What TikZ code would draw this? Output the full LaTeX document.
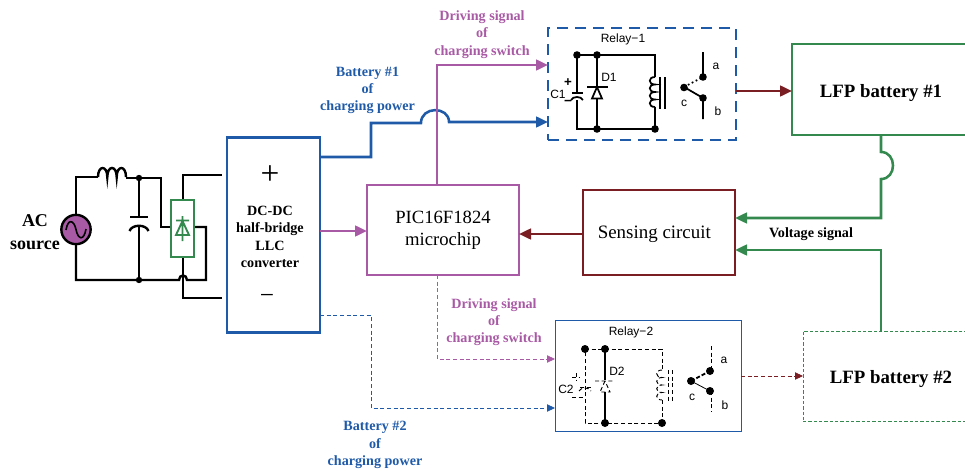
\documentclass[tikz,border=0pt]{standalone}
\usepackage{fontspec}
\setmainfont{Liberation Serif}
\newfontfamily\relayfont{Liberation Sans}
\usetikzlibrary{arrows.meta}
\definecolor{cpur}{HTML}{A95AA5}
\definecolor{cblu}{HTML}{1F5AA8}
\definecolor{cgrn}{HTML}{34894F}
\definecolor{cred}{HTML}{7A1E24}
\tikzset{
 box/.style={draw,line width=1.8pt,outer sep=0pt,inner sep=0pt,align=center},
 lbl/.style={font=\bfseries\fontsize{10.6}{13}\selectfont,align=center,inner sep=0pt},
 rtxt/.style={font=\relayfont\fontsize{9}{10}\selectfont,inner sep=0pt},
 wire/.style={line width=1.8pt,line join=miter},
 swire/.style={line width=1.3pt},
 conn/.style={line width=1.9pt},
 tip/.style={-{Triangle[length=9pt,width=8pt]}},
 thin tip/.style={-{Triangle[length=6pt,width=5.5pt]}},
 dsh/.style={line width=.7pt,dash pattern=on 3pt off 2pt},
 thindash/.style={line width=.6pt,dash pattern=on 3pt off 2pt},
}
\begin{document}
\begin{tikzpicture}[x=0.75pt,y=-0.75pt]
\useasboundingbox (0,0) rectangle (965,471);
% boxes
\node[box,draw=cblu,minimum width=69.75pt,minimum height=146pt] (dc) at (273.5,235) {};
\node[lbl] (dctxt) at (270,237) {\bfseries DC-DC\\half-bridge\\LLC\\converter};
\node[font=\fontsize{25}{25}\selectfont,inner sep=0pt] (plus) at (270,175) {+};
\node[font=\fontsize{19}{19}\selectfont,inner sep=0pt] (minus) at (267,299) {−};
\node[box,draw=cpur,minimum width=114pt,minimum height=67.5pt,font=\fontsize{14}{16.5}\selectfont] (pic) at (443,230) {PIC16F1824\\microchip};
\node[box,draw=cred,minimum width=114pt,minimum height=63.75pt,font=\fontsize{14.2}{16.5}\selectfont,text height=12.4pt,text depth=3pt] (sense) at (659,232.5) {\hspace*{-7pt}Sensing circuit};
\node[box,draw=cblu,line width=1.2pt,dash pattern=on 8pt off 5.5pt,minimum width=141pt,minimum height=84pt] (relayA) at (642,84) {};
\node[box,draw=cblu,line width=.7pt,minimum width=139.5pt,minimum height=83.25pt] (relayB) at (648,375.5) {};
\node[box,draw=cgrn,minimum width=133.5pt,minimum height=68.25pt,font=\bfseries\fontsize{14.1}{16}\selectfont,text height=15.4pt,text depth=3pt] (lfpA) at (881,89.5) {LFP battery \#1};
\node[box,draw=cgrn,line width=.7pt,dash pattern=on 2.5pt off 1.5pt,minimum width=132pt,minimum height=67.5pt,font=\bfseries\fontsize{14.1}{16}\selectfont,text height=13.9pt,text depth=3pt] (lfpB) at (891,376) {LFP battery \#2};
% labels
\node[lbl,text=cpur] (l1) at (482,34.5) {Driving signal\\of\\charging switch};
\node[lbl,text=cblu] (l2) at (367.5,90.5) {Battery \#1\\of\\charging power};
\node[lbl,text=cpur] (l3) at (494,322) {Driving signal\\of\\charging switch};
\node[lbl,text=cblu] (l4) at (375,445) {Battery \#2\\of\\charging power};
\node[lbl] (l5) at (811,234) {Voltage signal};
\node[font=\bfseries\fontsize{13.5}{17.5}\selectfont,align=center,inner sep=0pt] (ac) at (35,232) {AC\\source};
% connectors
\draw[conn,cblu,tip] (dc.east |- 0,157) -- (371,157) -- (371,123) -- (421,123)
  .. controls (421,106) and (449,106) .. (449,122) -- (relayA.west |- 0,122);
\draw[conn,cpur,tip] (pic.north -| 437,0) -- (437,65) -- (relayA.west |- 0,65);
\draw[conn,cpur,tip] (dc.east |- 0,231) -- (pic.west |- 0,231);
\draw[conn,cred,tip] (sense.west |- 0,234) -- (pic.east |- 0,234);
\draw[conn,cred,tip] (relayA.east |- 0,91) -- (lfpA.west |- 0,91);
\draw[conn,cgrn,tip] (lfpA.south -| 881,0) -- (881,152)
  .. controls (897,152) and (897,179) .. (881,179) -- (881,218) -- (sense.east |- 0,218);
\draw[conn,cgrn,tip] (lfpB.north -| 881,0) -- (881,250) -- (sense.east |- 0,250);
\draw[cpur,thindash,thin tip] (pic.south -| 437,0) -- (437,359) -- (relayB.west |- 0,359);
\draw[cblu,thindash,thin tip] (dc.east |- 0,315) -- (371,315) -- (371,408) -- (relayB.west |- 0,408);
\draw[cred,thindash,thin tip] (relayB.east |- 0,376) -- (lfpB.west |- 0,376);
% source
\draw[wire] (76,214) -- (76,177) -- (98,177);
\draw[wire] (98,177) .. controls (98,165) and (107.3,165) .. (107.3,177)
  .. controls (107.3,165) and (116.7,165) .. (116.7,177)
  .. controls (116.7,165) and (126,165) .. (126,177);
\draw[wire] (126,178) -- (161,178) -- (161,227) -- (171,227);
\draw[wire] (76,245) -- (76,280) -- (179,280) .. controls (179,274) and (187,274) .. (187,280) -- (206,280) -- (206,227) -- (194,227);
\draw[wire] (183,200) -- (183,175) -- (222,175);
\draw[wire] (183,257) -- (183,298) -- (222,298);
\draw[wire] (139,178) -- (139,217) (130,217) -- (148,217);
\draw[wire] (129.5,231) .. controls (132,224) and (146,224) .. (148.5,231);
\draw[wire] (139,226) -- (139,280);
\fill (139,178) circle[radius=3.2] (139,280) circle[radius=3.2];
\node[circle,draw=black,fill=cpur,line width=1.8pt,minimum size=22pt,inner sep=0pt] (src) at (76,229.5) {};
\draw[line width=1.2pt] (66,230) .. controls (68,218) and (74,220) .. (76,229.5) .. controls (78,240) and (84,241) .. (86,229);
% rectifier
\node[draw=cgrn,fill=white,line width=1.6pt,minimum width=17pt,minimum height=42.75pt,inner sep=0pt] (rect) at (182.5,228.5) {};
\draw[cgrn,line width=1.4pt] (182.5,216) -- (182.5,241) (176,220.5) -- (189,220.5) (182.5,221) -- (176,235) -- (189,235) -- cycle;
% relay 1
\node[rtxt] (r1t) at (623,39) {Relay−1};
\node[rtxt] (r1d) at (609,77) {D1};
\node[rtxt] (r1c) at (558,94) {C1};
\node[rtxt,font=\relayfont\bfseries\fontsize{10}{10}\selectfont] (r1p) at (568,83) {+};
\node[rtxt,font=\relayfont\bfseries\fontsize{10}{10}\selectfont] (r1m) at (568,103) {−};
\node[rtxt] (r1a) at (716,66) {a};
\node[rtxt] (r1b) at (718,111) {b};
\node[rtxt] (r1cc) at (684,103) {c};
\draw[line width=1.5pt] (577,55) -- (655,55) -- (655,77) (655,107) -- (655,129) -- (577,129) -- (577,100) (577,55) -- (577,93);
\draw[swire] (572,93) -- (583,93);
\draw[swire] (571,100) .. controls (573,96) and (581,96) .. (583,100);
\draw[line width=1.5pt] (597,55) -- (597,129);
\draw[swire] (587,87) -- (608,87);
\draw[swire,fill=white] (597,87) -- (592,98.5) -- (602,98.5) -- cycle;
\draw[swire] (655,77) .. controls (648,77) and (648,84.5) .. (655,84.5) .. controls (648,84.5) and (648,92) .. (655,92) .. controls (648,92) and (648,99.5) .. (655,99.5) .. controls (648,99.5) and (648,107) .. (655,107);
\draw[swire] (660,77) -- (660,109) (665,77) -- (665,109);
\draw[swire] (703,52) -- (703,77) (703,98) -- (703,119) (684,87) -- (703,98);
\draw[swire,dotted] (684,87) -- (703,77);
\foreach \p in {(577,55),(597,55),(597,129),(655,129),(684,87.5),(703,77),(703,98)} \fill \p circle[radius=3.8];
% relay 2
\node[rtxt] (r2t) at (631,332) {Relay−2};
\node[rtxt] (r2d) at (617,371) {D2};
\node[rtxt] (r2c) at (566,389) {C2};
\node[rtxt] (r2a) at (724,360) {a};
\node[rtxt] (r2b) at (725,405) {b};
\node[rtxt] (r2cc) at (692,397) {c};
\draw[dsh] (585,349) -- (662,349) -- (662,370) (662,400) -- (662,423) -- (585,423) -- (585,349);
\draw[dsh] (580,387) -- (592,387) (572,397) -- (585,397) (572,377) -- (580,377) (576,373) -- (576,381);
\draw[dsh] (579,391) .. controls (581,387) and (589,387) .. (591,391);
\draw[line width=.8pt] (605,349) -- (605,380) (605,392) -- (605,423);
\draw[dsh] (595,381) -- (613,381) (605,381) -- (600,392) -- (610,392) -- cycle;
\draw[dsh] (662,370) .. controls (655,370) and (655,377.5) .. (662,377.5) .. controls (655,377.5) and (655,385) .. (662,385) .. controls (655,385) and (655,392.5) .. (662,392.5) .. controls (655,392.5) and (655,400) .. (662,400);
\draw[dsh] (668,370) -- (668,402) (672,370) -- (672,402);
\draw[dsh] (711,346) -- (711,371) (711,391) -- (711,412);
\draw[line width=.6pt] (691,381) -- (710,391);
\draw[line width=1.4pt,dash pattern=on 3pt off 1.5pt] (691,381) -- (710,371);
\foreach \p in {(585,349),(605,349),(605,423),(662,423),(691,381),(710,371),(710,391)} \fill \p circle[radius=4];
\end{tikzpicture}
\end{document}
